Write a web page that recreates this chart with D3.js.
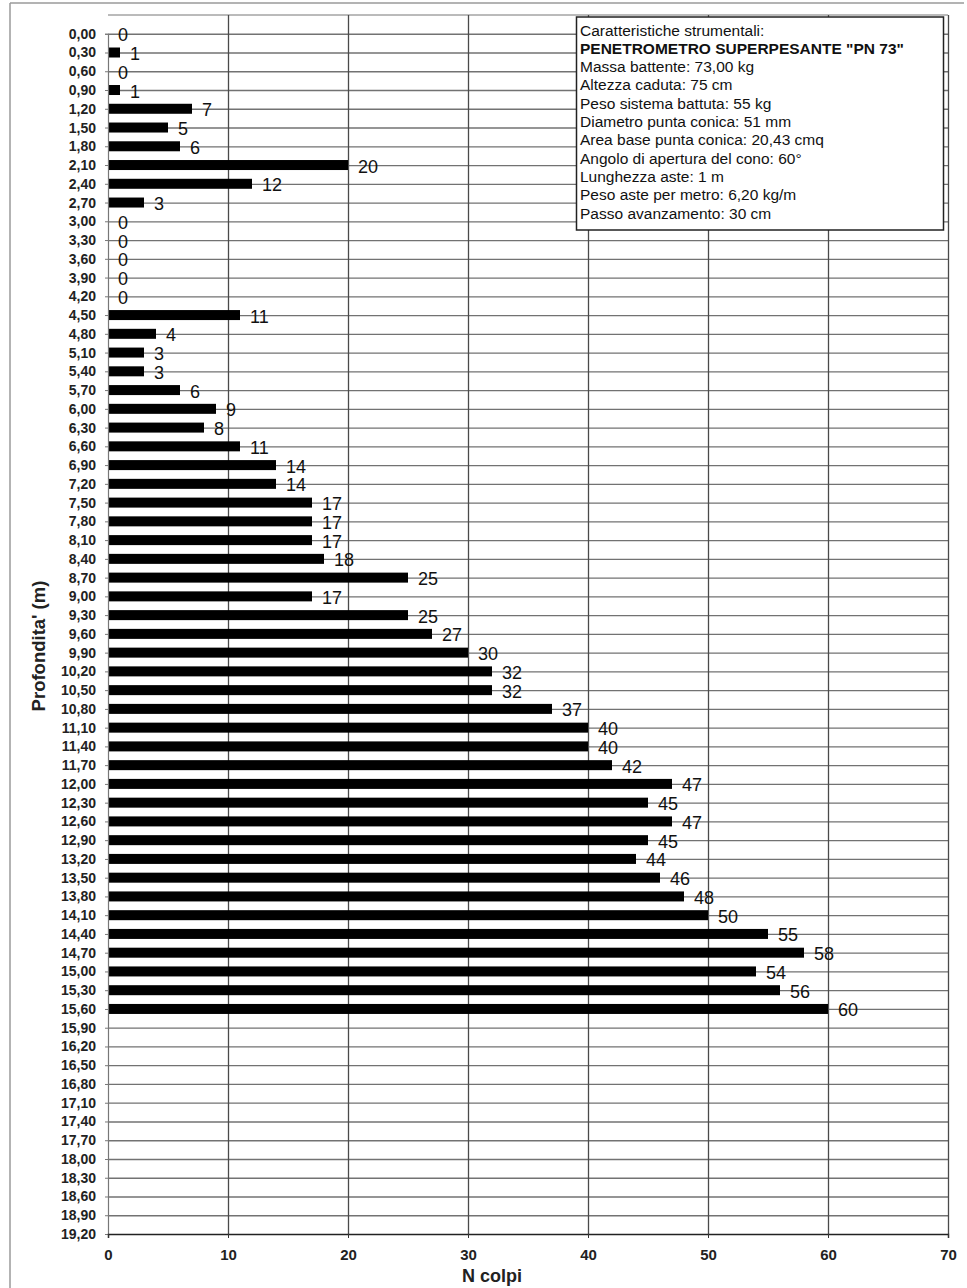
<!DOCTYPE html>
<html>
<head>
<meta charset="utf-8">
<script src="https://cdn.jsdelivr.net/npm/d3@7"></script>
<style>
  html, body { margin: 0; padding: 0; background: #fff; }
  svg { display: block; font-family: "Liberation Sans", Arial, sans-serif; }
</style>
</head>
<body>
<svg id="chart" width="967" height="1288"></svg>
<script>
// Depth steps (m), as printed on the vertical axis
const depths = [
  "0,00","0,30","0,60","0,90","1,20","1,50","1,80","2,10","2,40","2,70",
  "3,00","3,30","3,60","3,90","4,20","4,50","4,80","5,10","5,40","5,70",
  "6,00","6,30","6,60","6,90","7,20","7,50","7,80","8,10","8,40","8,70",
  "9,00","9,30","9,60","9,90","10,20","10,50","10,80","11,10","11,40","11,70",
  "12,00","12,30","12,60","12,90","13,20","13,50","13,80","14,10","14,40","14,70",
  "15,00","15,30","15,60","15,90","16,20","16,50","16,80","17,10","17,40","17,70",
  "18,00","18,30","18,60","18,90","19,20"
];

// Blow counts per 30 cm step (null = no reading)
const blows = [
  0, 1, 0, 1, 7, 5, 6, 20, 12, 3,
  0, 0, 0, 0, 0, 11, 4, 3, 3, 6,
  9, 8, 11, 14, 14, 17, 17, 17, 18, 25,
  17, 25, 27, 30, 32, 32, 37, 40, 40, 42,
  47, 45, 47, 45, 44, 46, 48, 50, 55, 58,
  54, 56, 60, null, null, null, null, null, null, null,
  null, null, null, null, null
];

const xTicks = [0, 10, 20, 30, 40, 50, 60, 70];

// Instrument specification box
const specLines = [
  "Caratteristiche strumentali:",
  "PENETROMETRO SUPERPESANTE \"PN 73\"",
  "Massa battente: 73,00 kg",
  "Altezza  caduta: 75 cm",
  "Peso sistema battuta: 55 kg",
  "Diametro punta conica: 51 mm",
  "Area base punta conica: 20,43 cmq",
  "Angolo di apertura del cono: 60°",
  "Lunghezza aste: 1 m",
  "Peso aste per metro: 6,20 kg/m",
  "Passo avanzamento: 30 cm"
];

const svg = d3.select("#chart");
const plotLeft = 108, plotRight = 948, plotTop = 15, plotBottom = 1234;
const step = (plotBottom - plotTop) / depths.length;

const x = d3.scaleLinear().domain([0, 70]).range([plotLeft, plotRight]);
const y = d3.scalePoint().domain(depths).range([plotTop + step, plotBottom]);

const rows = depths.map((d, i) => ({ depth: d, value: blows[i] }));

// page frame
svg.append("line").attr("x1", 10).attr("x2", 10).attr("y1", 3).attr("y2", 1288)
  .attr("stroke", "#9a9a9a").attr("stroke-width", 1.5);
svg.append("line").attr("x1", 10).attr("x2", 964).attr("y1", 3).attr("y2", 3)
  .attr("stroke", "#9a9a9a").attr("stroke-width", 1.5);

// plot border (top)
svg.append("line").attr("x1", plotLeft).attr("x2", plotRight).attr("y1", plotTop).attr("y2", plotTop)
  .attr("stroke", "#777").attr("stroke-width", 1);

// horizontal grid
svg.append("g").selectAll("line").data(depths.slice(0, -1)).join("line")
  .attr("x1", plotLeft).attr("x2", plotRight)
  .attr("y1", d => y(d) + 0.5).attr("y2", d => y(d) + 0.5)
  .attr("stroke", "#727272").attr("stroke-width", 1.3);

// vertical grid
svg.append("g").selectAll("line").data(xTicks.slice(1)).join("line")
  .attr("x1", d => x(d) + 0.5).attr("x2", d => x(d) + 0.5)
  .attr("y1", plotTop).attr("y2", plotBottom)
  .attr("stroke", "#4a4a4a").attr("stroke-width", 1.3);

// bars
const bh = 10;
svg.append("g").selectAll("rect").data(rows.filter(r => r.value !== null && r.value > 0)).join("rect")
  .attr("x", x(0))
  .attr("y", r => y(r.depth) - bh / 2)
  .attr("width", r => x(r.value) - x(0))
  .attr("height", bh)
  .attr("fill", "#000");

// value labels
svg.append("g").selectAll("text").data(rows.filter(r => r.value !== null)).join("text")
  .attr("x", r => x(r.value) + 10)
  .attr("y", r => y(r.depth) + 7.5)
  .attr("font-size", 18)
  .attr("fill", "#111")
  .text(r => r.value);

// y axis
const yAxis = svg.append("g").attr("transform", `translate(${plotLeft},0)`)
  .call(d3.axisLeft(y).tickSize(3).tickPadding(9));
yAxis.select(".domain").attr("stroke", "#777").attr("stroke-width", 1.2);
yAxis.selectAll(".tick line").attr("stroke", "#777");
yAxis.selectAll("text").attr("font-size", 14).attr("font-weight", "bold")
  .attr("fill", "#222").attr("font-family", "'Liberation Sans', Arial, sans-serif");

// x axis
const xAxis = svg.append("g").attr("transform", `translate(0,${plotBottom})`)
  .call(d3.axisBottom(x).tickValues(xTicks).tickSize(4).tickPadding(11));
xAxis.select(".domain").attr("stroke", "#222").attr("stroke-width", 1.5);
xAxis.selectAll(".tick line").attr("stroke", "#333");
xAxis.selectAll("text").attr("font-size", 15).attr("font-weight", "bold")
  .attr("fill", "#222").attr("font-family", "'Liberation Sans', Arial, sans-serif");

// axis titles
svg.append("text").attr("x", 492).attr("y", 1281.5).attr("text-anchor", "middle")
  .attr("font-size", 18).attr("font-weight", "bold").attr("fill", "#222")
  .text("N colpi");
svg.append("text").attr("transform", "translate(45,646) rotate(-90)")
  .attr("text-anchor", "middle")
  .attr("font-size", 18.5).attr("font-weight", "bold").attr("fill", "#222")
  .text("Profondita' (m)");

// specification box
const box = svg.append("g");
box.append("rect").attr("x", 576.5).attr("y", 17).attr("width", 367).attr("height", 213)
  .attr("fill", "#fff").attr("stroke", "#222").attr("stroke-width", 1.5);
box.selectAll("text").data(specLines).join("text")
  .attr("x", 580)
  .attr("y", (d, i) => 35.5 + i * 18.3)
  .attr("font-size", 15.5)
  .attr("font-weight", (d, i) => i === 1 ? "bold" : "normal")
  .attr("fill", "#111")
  .text(d => d);
</script>
</body>
</html>
